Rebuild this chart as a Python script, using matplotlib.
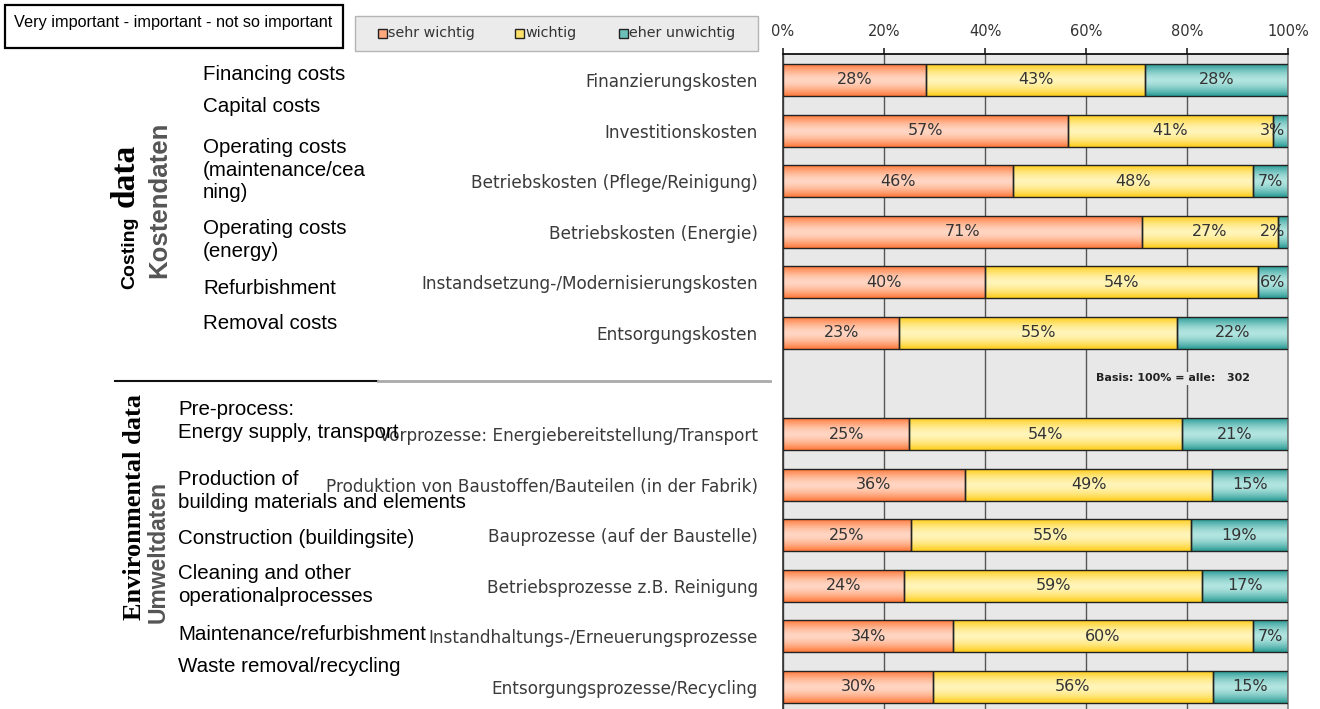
import numpy as np
import matplotlib
matplotlib.use("Agg")
import matplotlib.pyplot as plt
from matplotlib.patches import Rectangle
from matplotlib.lines import Line2D

# ---------------- data ----------------
cost_labels = ["Finanzierungskosten", "Investitionskosten",
               "Betriebskosten (Pflege/Reinigung)", "Betriebskosten (Energie)",
               "Instandsetzung-/Modernisierungskosten", "Entsorgungskosten"]
env_labels = ["Vorprozesse: Energiebereitstellung/Transport",
              "Produktion von Baustoffen/Bauteilen (in der Fabrik)",
              "Bauprozesse (auf der Baustelle)",
              "Betriebsprozesse z.B. Reinigung",
              "Instandhaltungs-/Erneuerungsprozesse",
              "Entsorgungsprozesse/Recycling"]

cost_sehr = [28, 57, 46, 71, 40, 23]
cost_wichtig = [43, 41, 48, 27, 54, 55]
cost_eher = [28, 3, 7, 2, 6, 22]

env_sehr = [25, 36, 25, 24, 34, 30]
env_wichtig = [54, 49, 55, 59, 60, 56]
env_eher = [21, 15, 19, 17, 7, 15]

series_names = ["sehr wichtig", "wichtig", "eher unwichtig"]
xticks_vals = [0, 20, 40, 60, 80, 100]
basis_text = "Basis: 100% = alle:   302"

cost_english = ["Financing costs", "Capital costs",
                "Operating costs\n(maintenance/cea\nning)",
                "Operating costs\n(energy)", "Refurbishment", "Removal costs"]
env_english = ["Pre-process:\nEnergy supply, transport",
               "Production of\nbuilding materials and elements",
               "Construction (buildingsite)",
               "Cleaning and other\noperationalprocesses",
               "Maintenance/refurbishment", "Waste removal/recycling"]
title_box_text = "Very important - important - not so important"

# ---------------- layout / style ----------------
W, H, DPI = 1320, 709, 100
fig = plt.figure(figsize=(W / DPI, H / DPI), dpi=DPI)

def fx(px):
    return px / W

def fy(py):
    return 1 - py / H

ax = fig.add_axes([fx(783), 0, fx(1288) - fx(783), fy(54)])

labels = cost_labels + env_labels
sehr = np.array(cost_sehr + env_sehr, dtype=float)
wich = np.array(cost_wichtig + env_wichtig, dtype=float)
eher = np.array(cost_eher + env_eher, dtype=float)
pos = np.concatenate([np.arange(len(cost_labels)),
                      len(cost_labels) + 1 + np.arange(len(env_labels))])
gap_row = len(cost_labels)
tot = sehr + wich + eher
s_n, w_n, e_n = sehr / tot * 100, wich / tot * 100, eher / tot * 100

edge_cols = [np.array([255, 120, 55]) / 255, np.array([255, 205, 25]) / 255,
             np.array([40, 155, 148]) / 255]
mid_cols = [np.array([255, 214, 195]) / 255, np.array([255, 245, 185]) / 255,
            np.array([178, 228, 224]) / 255]

bh = 0.63
lefts = [np.zeros_like(s_n), s_n, s_n + w_n]
widths = [s_n, w_n, e_n]
raw = [sehr, wich, eher]
for k in range(3):
    bc = ax.barh(pos, widths[k], left=lefts[k], height=bh,
                 facecolor="none", edgecolor="#222222", linewidth=1.0,
                 zorder=3, label=series_names[k])
    t = np.linspace(-1, 1, 64)
    f = np.abs(t) ** 1.6
    cols = mid_cols[k][None, :] * (1 - f[:, None]) + edge_cols[k][None, :] * f[:, None]
    img = cols[:, None, :]
    for p in bc.patches:
        x0, y0 = p.get_x(), p.get_y()
        w, h = p.get_width(), p.get_height()
        im = ax.imshow(img, extent=(x0, x0 + w, y0 + h, y0), aspect="auto",
                       interpolation="bilinear", zorder=2)
        im.set_clip_path(p)
    for p, v in zip(bc.patches, raw[k]):
        cx = p.get_x() + p.get_width() / 2
        cy = p.get_y() + p.get_height() / 2
        if p.get_width() < 5:
            ax.text(p.get_x() + p.get_width() - 0.6, cy, f"{int(v)}%",
                    ha="right", va="center", fontsize=11.5, color="#333333",
                    family="DejaVu Sans", zorder=5)
        else:
            ax.text(cx, cy, f"{int(v)}%", ha="center", va="center",
                    fontsize=11.5, color="#333333", family="DejaVu Sans", zorder=5)

ax.set_facecolor("#e8e8e8")
ax.set_axisbelow(True)
ax.xaxis.grid(True, color="#555555", linewidth=1.0, zorder=0)
ax.yaxis.grid(False)
ax.set_xlim(0, 100)
ax.set_ylim(12.435, -0.514)
ax.xaxis.set_ticks_position("top")
ax.set_xticks(xticks_vals)
ax.set_xticklabels([f"{v}%" for v in xticks_vals], fontsize=10.5,
                   color="#333333", family="DejaVu Sans")
ax.tick_params(axis="x", direction="out", length=4, width=1.2,
               color="#222222", pad=7)
ax.set_yticks(pos)
ax.set_yticklabels(labels, fontsize=12.2, color="#3a3a3a", family="DejaVu Sans")
ax.tick_params(axis="y", length=0, pad=18)
ax.spines["bottom"].set_visible(False)
ax.spines["top"].set_color("#111111")
ax.spines["top"].set_linewidth(1.3)
ax.spines["left"].set_color("#333333")
ax.spines["left"].set_linewidth(1.2)
ax.spines["right"].set_color("#888888")
ax.spines["right"].set_linewidth(1.2)

ax.text(62, gap_row - 0.1, basis_text, ha="left", va="center", fontsize=8,
        fontweight="bold", color="#222222", family="DejaVu Sans", zorder=4,
        bbox=dict(facecolor="#e8e8e8", edgecolor="none", pad=1.0))

# legend (drawn as a framed key)
fig.patches.append(Rectangle((fx(355), fy(51)), fx(758) - fx(355), fy(16) - fy(51),
                             transform=fig.transFigure, facecolor="#ebebeb",
                             edgecolor="#b4b4b4", linewidth=1.0))
leg_x = [378, 515, 619]
for k in range(3):
    fig.patches.append(Rectangle((fx(leg_x[k]), fy(38)), fx(9), 9 / H,
                                 transform=fig.transFigure,
                                 facecolor=mid_cols[k] * 0.5 + edge_cols[k] * 0.5,
                                 edgecolor="#222222", linewidth=1.0))
    fig.text(fx(leg_x[k] + 10), fy(33), series_names[k], ha="left", va="center",
             fontsize=10.3, family="DejaVu Sans", color="#333333")

# title box
fig.patches.append(Rectangle((fx(5), fy(48)), fx(343) - fx(5), fy(5) - fy(48),
                             transform=fig.transFigure, facecolor="white",
                             edgecolor="black", linewidth=1.6))
fig.text(fx(14), fy(22), title_box_text, ha="left", va="center",
         fontsize=11.7, family="Liberation Sans", color="black")

# English labels
cost_eng_xy = [(203, 75), (203, 106), (203, 170), (203, 240), (203, 288), (203, 324)]
env_eng_xy = [(178, 421), (178, 491), (178, 538), (178, 585), (178, 634), (178, 667)]
for txt, (x, y) in zip(cost_english + env_english, cost_eng_xy + env_eng_xy):
    fig.text(fx(x), fy(y), txt, ha="left", va="center", fontsize=14.8,
             family="Liberation Sans", color="black", linespacing=1.22)

# section titles (rotated)
fig.text(fx(134), fy(253), "Costing", rotation=90, rotation_mode="anchor",
         ha="center", va="baseline", fontsize=14, fontweight="bold",
         family="Liberation Sans", color="black")
fig.text(fx(134), fy(175), "data", rotation=90, rotation_mode="anchor",
         ha="center", va="baseline", fontsize=24, fontweight="bold",
         family="Liberation Serif", color="black")
fig.text(fx(166), fy(200), "Kostendaten", rotation=90, rotation_mode="anchor",
         ha="center", va="baseline", fontsize=18.5, fontweight="bold",
         family="Liberation Sans", color="#555555")
fig.text(fx(141), fy(507), "Environmental data", rotation=90, rotation_mode="anchor",
         ha="center", va="baseline", fontsize=19, fontweight="bold",
         family="Liberation Serif", color="black")
fig.text(fx(165), fy(552), "Umweltdaten", rotation=90, rotation_mode="anchor",
         ha="center", va="baseline", fontsize=16.5, fontweight="bold",
         family="Liberation Sans", color="#555555")

# separator line
fig.add_artist(Line2D([fx(115), fx(378)], [fy(381), fy(381)], color="#111111",
                      linewidth=1.5, transform=fig.transFigure))
fig.add_artist(Line2D([fx(378), fx(770)], [fy(381), fy(381)], color="#aaaaaa",
                      linewidth=2.0, transform=fig.transFigure))

fig.savefig("out.png", dpi=DPI)
